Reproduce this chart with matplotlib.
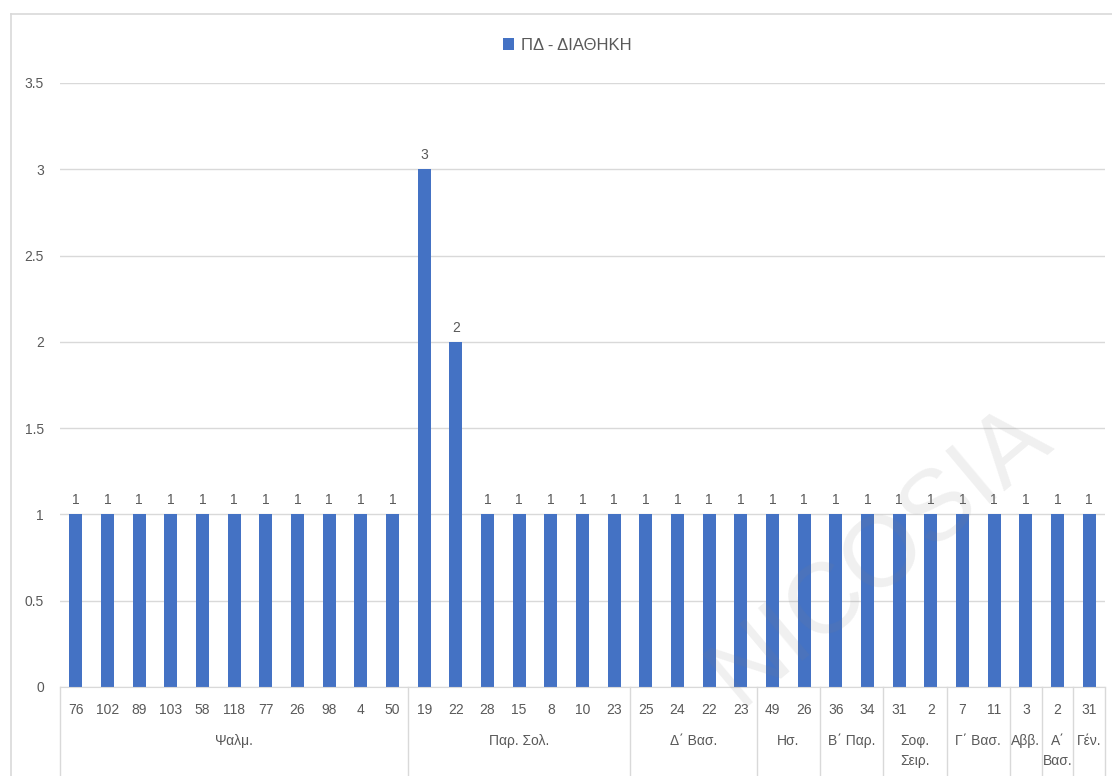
import matplotlib.pyplot as plt
from matplotlib.lines import Line2D
from matplotlib.ticker import FuncFormatter, MultipleLocator

plt.rcParams['font.family'] = ['Liberation Sans', 'DejaVu Sans']

# Data
verses = ['76', '102', '89', '103', '58', '118', '77', '26', '98', '4', '50',
          '19', '22', '28', '15', '8', '10', '23',
          '25', '24', '22', '23',
          '49', '26',
          '36', '34',
          '31', '2',
          '7', '11',
          '3',
          '2',
          '31']
values = [1, 1, 1, 1, 1, 1, 1, 1, 1, 1, 1,
          3, 2, 1, 1, 1, 1, 1,
          1, 1, 1, 1,
          1, 1,
          1, 1,
          1, 1,
          1, 1,
          1,
          1,
          1]
books = ['Ψαλμ.', 'Παρ. Σολ.', 'Δ΄ Βασ.', 'Ησ.', 'Β΄ Παρ.', 'Σοφ.\nΣειρ.',
         'Γ΄ Βασ.', 'Αββ.', 'Α΄\nΒασ.', 'Γέν.']
book_sizes = [11, 7, 4, 2, 2, 2, 2, 1, 1, 1]
series_name = 'ΠΔ - ΔΙΑΘΗΚΗ'

W, H = 1112, 776
fig = plt.figure(figsize=(W / 100, H / 100), dpi=100)
ax = fig.add_axes([60 / W, 89 / H, (1105 - 60) / W, (687 - 83) / H])

blue = '#4472C4'
grey_txt = '#595959'
grey_line = '#D9D9D9'

x = list(range(len(values)))
bars = ax.bar(x, values, width=0.42, color=blue, zorder=3, label=series_name)
ax.bar_label(bars, padding=5, color=grey_txt, fontsize=10)

ax.set_xlim(-0.5, len(values) - 0.5)
ax.set_ylim(0, 3.5)
ax.yaxis.set_major_locator(MultipleLocator(0.5))
ax.yaxis.set_major_formatter(FuncFormatter(lambda v, p: '%g' % v))
ax.grid(axis='y', color=grey_line, linewidth=1, zorder=0)
ax.tick_params(axis='y', length=0, pad=11.5, labelcolor=grey_txt, labelsize=10)
ax.set_xticks([])
for s in ['top', 'right', 'left']:
    ax.spines[s].set_visible(False)
ax.spines['bottom'].set_color(grey_line)
ax.spines['bottom'].set_zorder(4)

# multi-level category axis
tr = ax.get_xaxis_transform()
ph = 687 - 83
for xi, lab in zip(x, verses):
    ax.text(xi, -23 / ph, lab, transform=tr, ha='center', va='center',
            fontsize=10, color=grey_txt)

start = 0
bottom = -90 / ph
ax.plot([-0.5, -0.5], [0, bottom], transform=tr, color=grey_line, lw=1, clip_on=False)
for name, n in zip(books, book_sizes):
    end = start + n
    ax.plot([end - 0.5, end - 0.5], [0, bottom], transform=tr, color=grey_line,
            lw=1, clip_on=False)
    ax.text((start + end - 1) / 2, -47 / ph, name, transform=tr, ha='center',
            va='top', fontsize=10, color=grey_txt, linespacing=1.55)
    start = end

# chart frame
fig.add_artist(Line2D([11 / W, 11 / W], [0, 1 - 14 / H], color=grey_line, lw=1.2))
fig.add_artist(Line2D([11 / W, 1], [1 - 14 / H, 1 - 14 / H], color=grey_line, lw=1.2))

fig.legend(handles=[bars], labels=[series_name], loc='center',
           bbox_to_anchor=(567 / W, 1 - 45 / H), frameon=False, fontsize=12,
           handlelength=0.7, handleheight=0.7, handletextpad=0.4,
           labelcolor=grey_txt)

# faint watermark
fig.text(880 / W, 1 - 555 / H, 'NICOSIA', fontsize=72, color='#808080', alpha=0.12,
         rotation=40, ha='center', va='center', zorder=10)

fig.savefig('out.png', dpi=100)
